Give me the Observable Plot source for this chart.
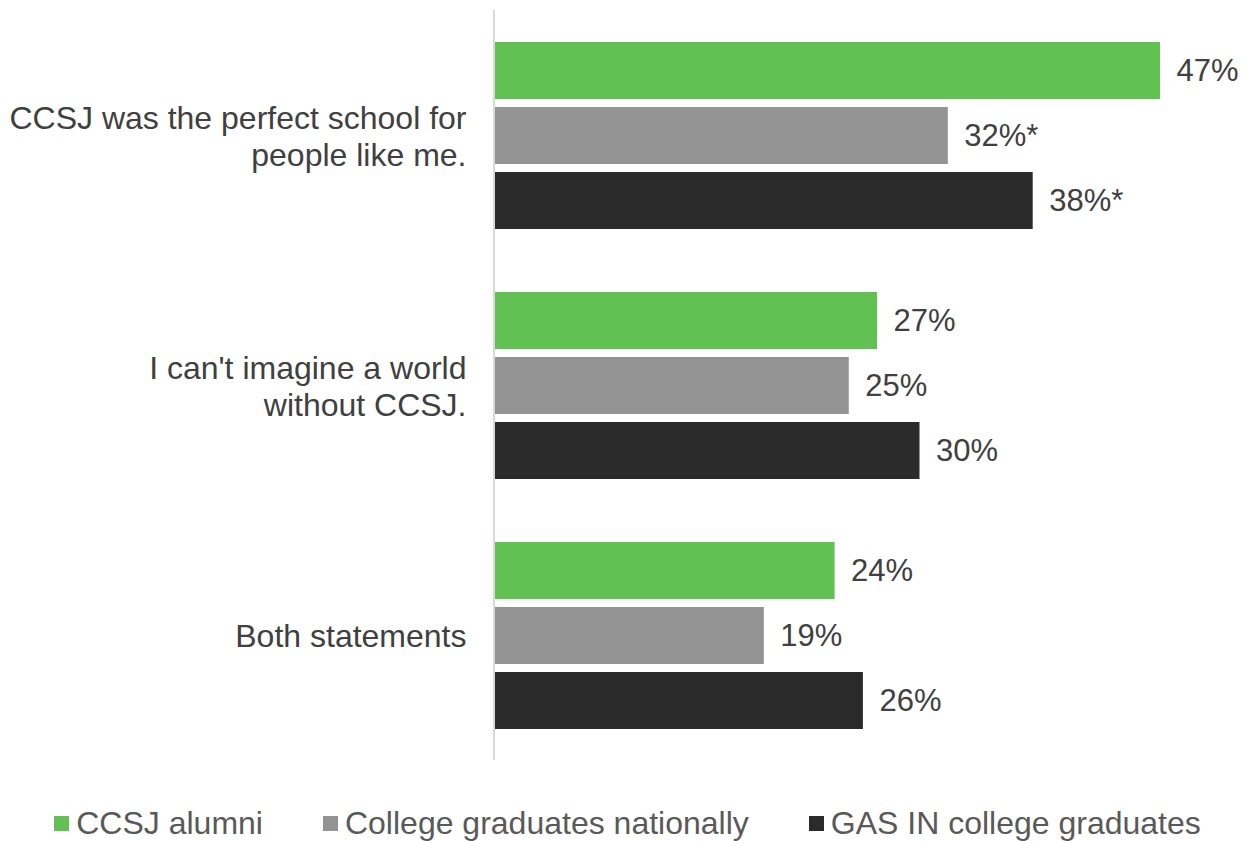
<!DOCTYPE html>
<html><head><meta charset="utf-8">
<script src="https://cdn.jsdelivr.net/npm/d3@7"></script>
<script src="https://cdn.jsdelivr.net/npm/@observablehq/plot@0.6"></script>
<style>
body{margin:0;background:#fff;font-family:"Liberation Sans",Arial,sans-serif;}
#chart svg{display:block;}
#legend{display:flex;justify-content:center;gap:60px;margin-top:15px;height:36px;line-height:36px;font-size:32px;color:#595959;white-space:nowrap;}
.item{display:flex;align-items:center;}
.sw{width:15px;height:15px;margin-right:7px;display:inline-block;}
</style></head><body>
<div id="chart"></div><div id="legend"></div>
<script>
const categories = ["CCSJ was the perfect school for\npeople like me.", "I can't imagine a world\nwithout CCSJ.", "Both statements"];
const series = ["CCSJ alumni", "College graduates nationally", "GAS IN college graduates"];
const colors = ["#62c153", "#939393", "#2b2b2b"];
const ccsjAlumni = [47, 27, 24];
const collegeNational = [32, 25, 19];
const gasIn = [38, 30, 26];
const ccsjLabels = ["47%", "27%", "24%"];
const nationalLabels = ["32%*", "25%", "19%"];
const gasLabels = ["38%*", "30%", "26%"];

const seriesValues = [ccsjAlumni, collegeNational, gasIn];
const seriesLabels = [ccsjLabels, nationalLabels, gasLabels];
const rows = [];
categories.forEach((c, i) => {
  series.forEach((s, j) => {
    rows.push({category: c, series: s, value: seriesValues[j][i], label: seriesLabels[j][i]});
  });
});

const chart = Plot.plot({
  width: 1255, height: 790,
  marginLeft: 495, marginRight: 52.5, marginTop: 10, marginBottom: 30,
  style: {fontFamily: "'Liberation Sans', Arial, sans-serif", background: "#fff"},
  x: {domain: [0, 50], axis: null},
  y: {domain: series, axis: null, paddingInner: 8/65, paddingOuter: 0.4846},
  fy: {domain: categories, padding: 0, label: null},
  color: {domain: series, range: colors},
  marks: [
    Plot.axisFy({anchor: "left", tickSize: 0, tickPadding: 29, fontSize: 32, lineHeight: 1.17, label: null, color: "#404040"}),
    Plot.barX(rows, {x: "value", y: "series", fy: "category", fill: "series"}),
    Plot.text(rows, {x: "value", y: "series", fy: "category", text: "label", textAnchor: "start", dx: 16, fontSize: 31, fill: "#404040"}),
    Plot.ruleX([0], {stroke: "#d9d9d9", strokeWidth: 2, dx: -1.5})
  ]
});
document.getElementById("chart").appendChild(chart);

const legend = document.getElementById("legend");
series.forEach((s, j) => {
  const it = document.createElement("span");
  it.className = "item";
  const sw = document.createElement("span");
  sw.className = "sw";
  sw.style.background = colors[j];
  it.appendChild(sw);
  it.appendChild(document.createTextNode(s));
  legend.appendChild(it);
});
</script>
</body></html>
